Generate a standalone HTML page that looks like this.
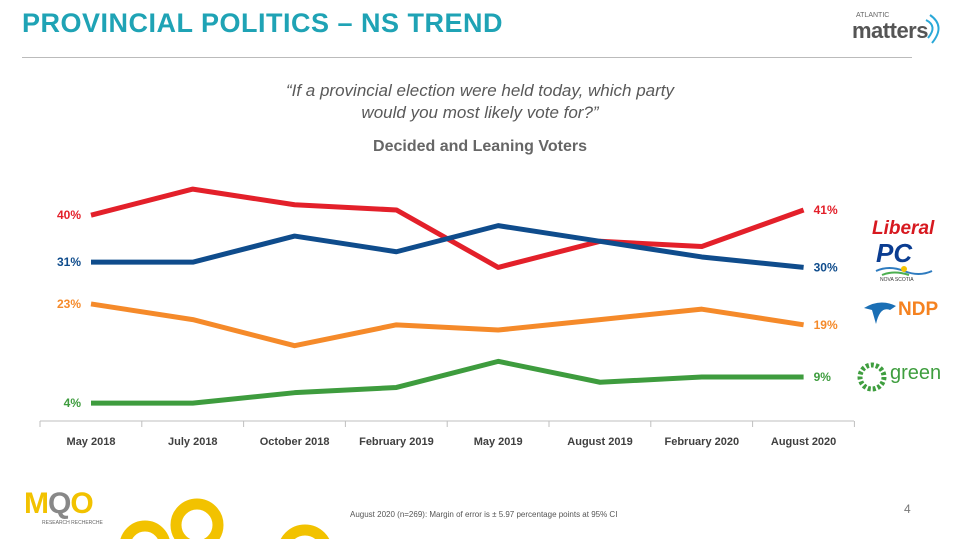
<!DOCTYPE html>
<html style="overflow:hidden;width:960px;height:540px"><head><meta charset="utf-8"><style>
html,body{margin:0;width:960px;height:540px;overflow:hidden}
body{background:#fff;font-family:"Liberation Sans",sans-serif;position:relative}
.abs{position:absolute}
svg{overflow:hidden}
</style></head><body>
<div class="abs" style="left:22px;top:8px;font-size:27px;font-weight:bold;color:#1fa3b5;letter-spacing:0.5px">PROVINCIAL POLITICS – NS TREND</div>
<div class="abs" style="left:22px;top:57px;width:890px;height:1px;background:#bbb"></div>
<div class="abs" style="left:852px;top:12px;width:95px;height:32px">
<span style="position:absolute;left:4px;top:0;font-size:7px;color:#666">ATLANTIC</span>
<span style="position:absolute;left:0;top:6px;font-size:22px;font-weight:bold;color:#555;letter-spacing:-0.5px">matters</span>
<svg style="position:absolute;left:70px;top:0" width="26" height="32"><path d="M4 8 Q16 14 6 26" stroke="#29a8d8" stroke-width="2" fill="none"/><path d="M8 3 Q24 14 10 31" stroke="#29a8d8" stroke-width="2" fill="none"/></svg>
</div>
<div class="abs" style="left:230px;top:80px;width:500px;text-align:center;font-size:17px;font-style:italic;color:#595959;line-height:22px">“If a provincial election were held today, which party<br>would you most likely vote for?”</div>
<div class="abs" style="left:230px;top:138px;width:500px;text-align:center;font-size:16px;font-weight:bold;color:#666">Decided and Leaning Voters</div>

<svg id="chart" class="abs" style="left:0;top:0" width="960" height="500"></svg>

<div class="abs" style="left:872px;top:218px;font-size:19px;font-weight:bold;font-style:italic;color:#d71920">Liberal</div>
<div class="abs" style="left:876px;top:238px;font-size:26px;font-weight:bold;font-style:italic;color:#0b3d91">PC</div>
<div class="abs" style="left:880px;top:277px;font-size:5px;color:#333">NOVA SCOTIA</div>
<svg class="abs" style="left:874px;top:265px" width="60" height="12"><path d="M2 6 Q15 0 30 6 T58 6" stroke="#2e7bbf" stroke-width="2" fill="none"/><path d="M8 10 Q20 5 35 10" stroke="#4caf50" stroke-width="2" fill="none"/><circle cx="30" cy="4" r="3" fill="#f5c400"/></svg>
<div class="abs" style="left:898px;top:299px;font-size:19px;font-weight:bold;color:#f58220">NDP</div>
<svg class="abs" style="left:862px;top:298px" width="36" height="28"><path d="M2 10 Q18 0 34 8 L28 12 Q18 8 14 26 L10 12 Z" fill="#1b6fb5"/></svg>
<svg class="abs" style="left:857px;top:362px" width="30" height="30"><circle cx="15" cy="15" r="12" fill="none" stroke="#3f9e3f" stroke-width="5" stroke-dasharray="3 2"/></svg>
<div class="abs" style="left:890px;top:362px;font-size:20px;color:#3f9e3f">green</div>

<div class="abs" style="left:24px;top:488px;font-size:30px;font-weight:bold;color:#f2c200;letter-spacing:-1px;line-height:32px">M<span style="color:#888">Q</span>O</div>
<div class="abs" style="left:42px;top:520px;font-size:5px;color:#666;line-height:6px">RESEARCH  RECHERCHE</div>
<svg class="abs" style="left:0;top:480px" width="400" height="59">
<circle cx="145" cy="66" r="20" fill="none" stroke="#f2c200" stroke-width="11"/>
<circle cx="197" cy="45" r="21" fill="none" stroke="#f2c200" stroke-width="11"/>
<circle cx="305" cy="72" r="22" fill="none" stroke="#f2c200" stroke-width="11"/>
</svg>
<div class="abs" style="left:350px;top:510px;font-size:8px;color:#555;line-height:10px">August 2020 (n=269): Margin of error is ± 5.97 percentage points at 95% CI</div>
<div class="abs" style="left:904px;top:502px;font-size:12px;color:#777;line-height:14px">4</div>

<script>
const categories=["May 2018","July 2018","October 2018","February 2019","May 2019","August 2019","February 2020","August 2020"];
const liberal=[40,45,42,41,30,35,34,41];
const pc=[31,31,36,33,38,35,32,30];
const ndp=[23,20,15,19,18,20,22,19];
const green=[4,4,6,7,12,8,9,9];
const seriesNames=["liberal","pc","ndp","green"];
const seriesColors=["#e3202a","#0f4c8c","#f58a2a","#3e9c3e"];
const NS="http://www.w3.org/2000/svg";
const svg=document.getElementById("chart");
function x(i){return 91+i*101.8;}
function y(v){return 424-v*5.22;}
function mk(t,a){const e=document.createElementNS(NS,t);for(const k in a)e.setAttribute(k,a[k]);svg.appendChild(e);return e;}
const axis=mk("line",{x1:40,x2:854,y1:421,y2:421,stroke:"#bfbfbf","stroke-width":1});


for(let i=0;i<=categories.length;i++){
  const t=mk("line",{x1:40+i*101.8,x2:40+i*101.8,y1:421,y2:427,stroke:"#bfbfbf"});
  
  
}
categories.forEach((c,i)=>{
  const t=mk("text",{x:x(i),y:445,"text-anchor":"middle","font-size":"11","font-weight":"bold",fill:"#404040","font-family":"Liberation Sans, sans-serif"});
  t.textContent=c;
  
  
});
[liberal,pc,ndp,green].forEach((s,k)=>{
  const p=mk("polyline",{points:s.map((v,i)=>x(i)+","+y(v)).join(" "),fill:"none",stroke:seriesColors[k],"stroke-width":5,"stroke-linejoin":"round"});
  
  
  const a=mk("text",{x:x(0)-10,y:y(s[0])+4,"text-anchor":"end","font-size":"12","font-weight":"bold",fill:seriesColors[k],"font-family":"Liberation Sans, sans-serif"});
  a.textContent=s[0]+"%";
  
  
  const n=s.length-1;
  const b=mk("text",{x:x(n)+10,y:y(s[n])+4,"font-size":"12","font-weight":"bold",fill:seriesColors[k],"font-family":"Liberation Sans, sans-serif"});
  b.textContent=s[n]+"%";
  
  
});
</script>
</body></html>
